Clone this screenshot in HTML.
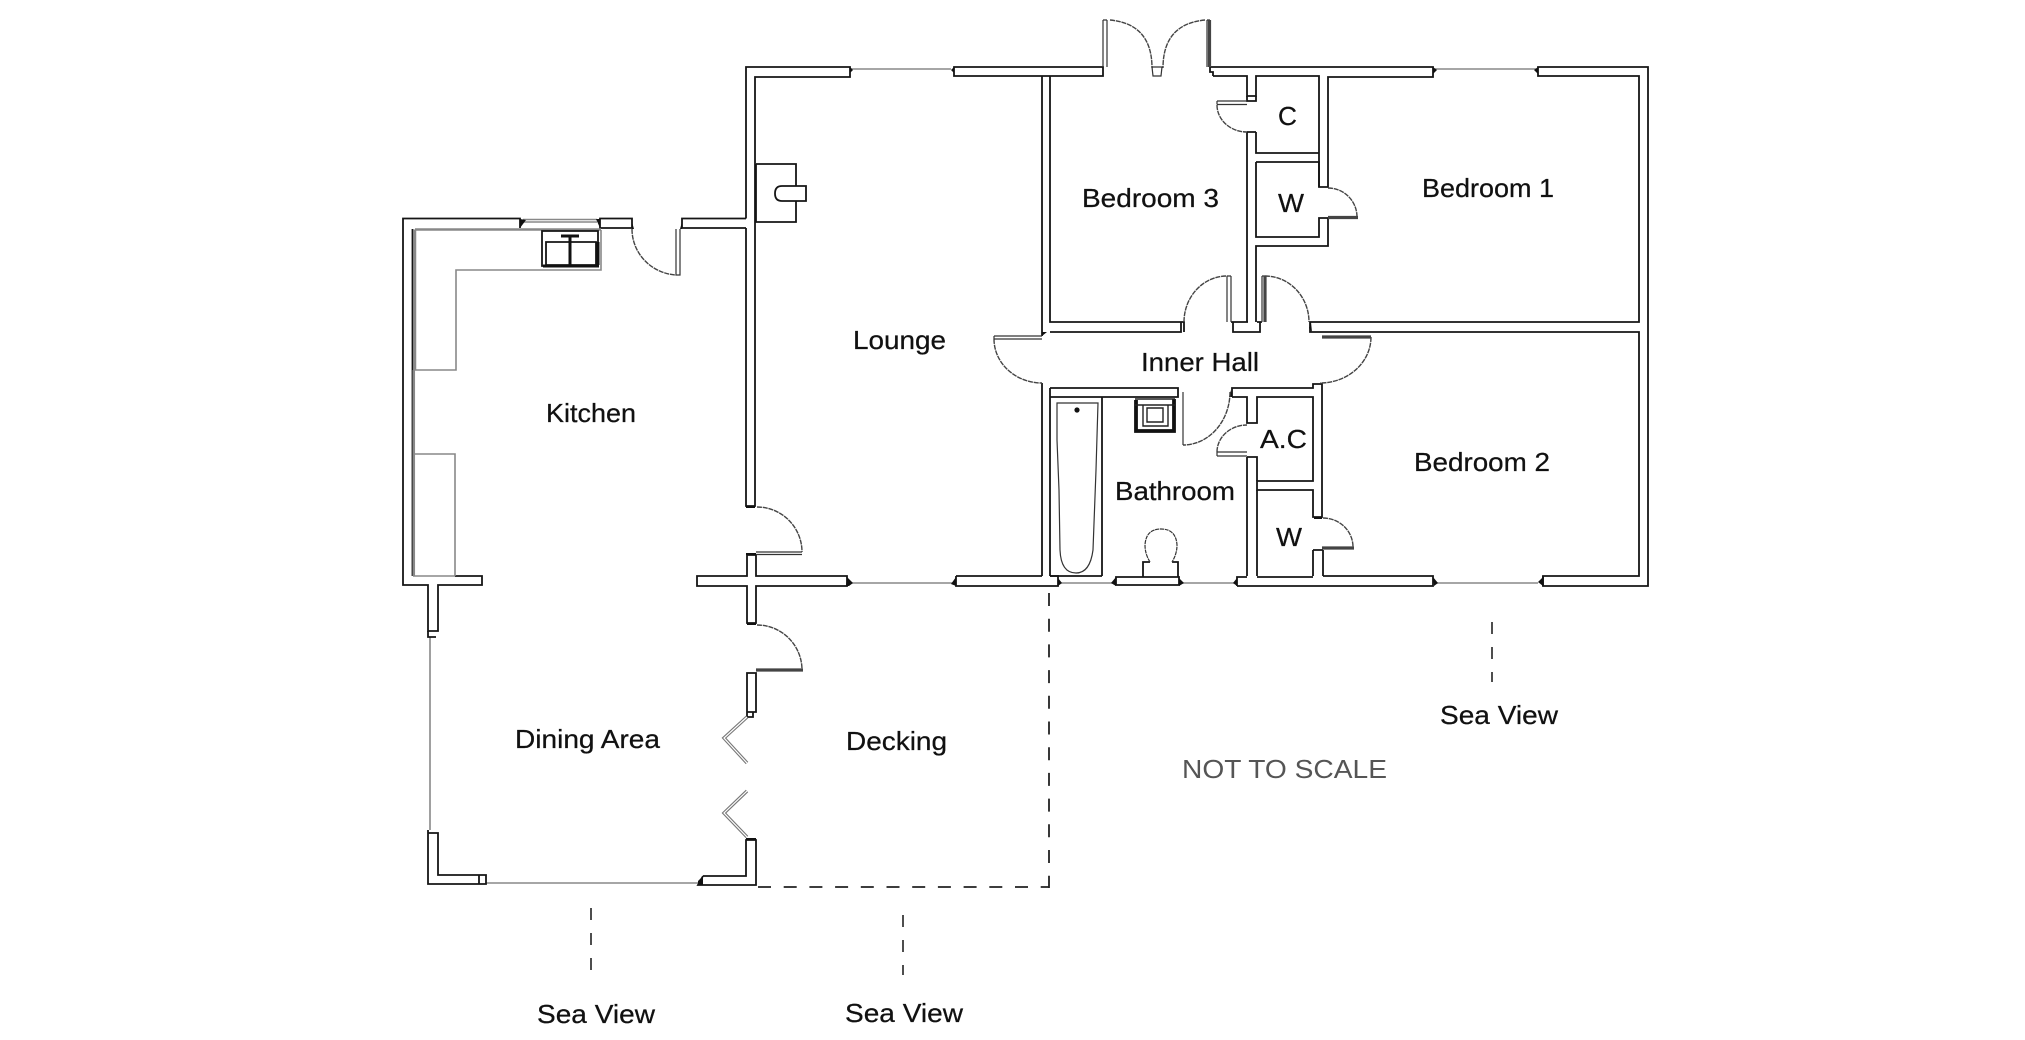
<!DOCTYPE html>
<html><head><meta charset="utf-8"><style>
html,body{margin:0;padding:0;background:#fff}
svg{display:block;filter:blur(.3px)}
text{font-family:"Liberation Sans",sans-serif;font-size:26px;fill:#111;stroke:#111;stroke-width:.25}
.w{fill:none;stroke:#151515;stroke-width:1.8}
.g{fill:none;stroke:#888;stroke-width:1.6}
.t{fill:none;stroke:#333;stroke-width:1.2}
.d{fill:none;stroke:#444;stroke-width:1.4;stroke-dasharray:5 .8}
.h{fill:none;stroke:#444;stroke-width:3.2}
.da{fill:none;stroke:#222;stroke-width:1.8;stroke-dasharray:13 12.7}
.db{fill:none;stroke:#222;stroke-width:1.6;stroke-dasharray:12 13}
.n{fill:#111;stroke:none}
</style></head><body>
<svg width="2025" height="1040" viewBox="0 0 2025 1040" xmlns="http://www.w3.org/2000/svg">
<rect width="2025" height="1040" fill="#fff"/>
<!-- windows -->
<path class="g" d="M850,69H951M1435,69H1536M849,583H956M1059,583H1115M1181,583H1237M1435,583H1538M486,883H698M430,637V830"/>
<path class="g" stroke-width="1.2" d="M523,219.500H597M523,222H597"/>
<!-- kitchen -->
<path class="w" d="M520,228V218.500H403V585H428V631H438V585H482V576H455M412.500,229V576"/>
<path class="w" d="M600,218.500H632V228H600Z"/>
<path class="w" d="M682,228V218.500H746M682,228H746"/>
<path class="w" d="M428,631V637H436"/>
<!-- lounge -->
<path class="w" d="M746,218.500V67H850V77H844M844,77H755V506H746V228"/>
<path class="w" d="M954,67H1103V76H954ZM1042,76V336M1050,76V322H1181V332H1050M1181,322H1184V332"/>
<!-- bed/upper right -->
<path class="w" d="M1210,67H1433V77H1328V187H1319V76M1213,76H1247V96H1256V76H1319V153H1256V136M1210,67V72H1213V76"/>
<path class="w" d="M1247,96V101H1256V96"/>
<path class="w" d="M1247,132V322M1256,132V136M1247,132H1256"/>
<path class="w" d="M1256,162H1319V187M1256,162V237H1319V218H1328V246H1256V322"/>
<path class="w" d="M1538,67H1648V586H1543V576H1639V332H1310V322H1639V76H1538Z"/>
<path class="w" d="M1231,322H1248M1257,322H1262M1233,322V332H1260V322"/>
<!-- lower centre -->
<path class="w" d="M1042,383V576M1050,388V576M1050,388H1178V397H1050M1178,388V397"/>
<path class="w" d="M1232,397V388H1313V384H1322V517H1313V490H1257V481H1313V397H1257V423H1247V397H1232"/>
<path class="w" d="M1247,457H1257V481M1257,490V576M1247,457V576"/>
<path class="w" d="M1313,550V576M1323,550V576M1313,550H1323"/>
<!-- bottom walls -->
<path class="w" d="M697,576H747V555H756V576H847V586H756V623H747V586H697Z"/>
<path class="w" d="M956,576H1042M1050,576H1058V586H956V576"/>
<path class="w" d="M1116,577H1179V585H1116Z"/>
<path class="w" d="M1102,576H1050"/>
<path class="w" d="M1237,586V577H1247M1257,577H1313M1323,576H1433V586H1237"/>
<path class="w" d="M1543,576V586"/>
<path class="w" d="M747,673H756V712H747ZM747,712V717H753V712"/>
<path class="w" d="M428,830V884H486V875H438V833H428M479,875V884"/>
<path class="w" d="M703,876H746V840H756V885H698L703,876"/>
<!-- nubs -->
<path class="n" d="M847,577L853,583L849,586H846ZM956,577L951,584L956,586ZM1058,578L1062,583L1058,586ZM1116,577L1111,583L1116,586ZM1179,578L1184,583L1179,586ZM1237,578L1233,583L1237,586ZM1433,577L1438,583L1434,586ZM1543,577L1538,582L1543,586ZM520,219L526,220L520,228ZM600,219H596L600,228ZM632,222V229H634ZM682,222V229H680ZM703,876L698,881L698,885H703ZM746,838H756V840H746ZM746,506H755V508H746ZM747,623H756V625H747ZM746,555H756V553H746ZM850,67V73L853,70ZM954,67V73L951,70ZM1433,67V74L1437,70ZM1538,67V74L1534,70ZM1311,322L1309,328L1312,332ZM1042,332H1047L1042,336ZM1314,517H1322V519H1314ZM1231,390L1229,397L1232,397Z"/>
<!-- chimney -->
<path class="w" d="M756,164H796V186M796,201V222H756V164"/>
<path class="w" d="M806,186V201H782Q775,201 775,193.500Q775,186 782,186Z"/>
<!-- kitchen units -->
<path fill="none" stroke="#888" stroke-width="2.5" d="M415,229.500H601M415,229.500V370M413.800,370V576"/>
<path class="g" d="M415,370H456V270H601V230M413,454H455V576M413,576H455"/>
<path class="w" stroke-width="1.5" d="M542,231H598V266H542Z"/>
<path class="w" stroke-width="1.3" d="M546,242H596V265H546Z"/>
<path d="M561,236H579M570,236V265M543,266H599M598,242V265" stroke="#111" stroke-width="3" fill="none"/>
<!-- door arcs -->
<g class="d">
<path d="M632,229A47,46 0 0 0 676,275"/>
<path d="M757,507A45,45 0 0 1 802,552"/>
<path d="M757,625A45,45 0 0 1 802,670"/>
<path d="M994,339A48,44 0 0 0 1042,383"/>
<path d="M1110,20Q1152,24 1152,68"/>
<path d="M1205,20Q1163,24 1163,68"/>
<path d="M1217,105A30,27 0 0 0 1247,132"/>
<path d="M1328,188A29,29 0 0 1 1357,217"/>
<path d="M1184,322A43,46 0 0 1 1227,276"/>
<path d="M1265,276A44,46 0 0 1 1309,322"/>
<path d="M1371,337A51,46 0 0 1 1320,383"/>
<path d="M1230,392A47,53 0 0 1 1183,445"/>
<path d="M1217,452A30,27 0 0 1 1247,425"/>
<path d="M1323,518A30,29 0 0 1 1353,547"/>
</g>
<!-- door leaves -->
<g class="t">
<path d="M676,229V275H680V229"/>
<path d="M756,552H802M756,554.500H802"/>
<path d="M994,336H1042M994,339H1042M994,336V339"/>
<path d="M1103,20V67M1107,20V67M1103,20H1107"/>
<path d="M1207,20V67M1207,20H1210"/>
<path d="M1217,101H1247M1217,104.500H1247M1217,101V104.500"/>
<path d="M1227,276V322M1231,276V322M1227,276H1231"/>
<path d="M1262,276V322M1262,276H1265"/>
<path d="M1152,67H1162L1161,76H1153Z"/>
<path d="M1183,392V445"/>
<path d="M1217,452H1247M1217,456H1247M1217,452V456"/>
</g>
<path class="h" stroke-width="2" d="M1209.500,20V67M1265,276V322"/>
<path class="h" d="M756,670H803M1328,217.500H1358M1322,337H1371M1322,548H1354"/>
<!-- bifold -->
<g fill="none" stroke="#777" stroke-width="3.4"><path d="M747,717L724,738L747,763M747,791L724,813L747,837"/></g>
<g fill="none" stroke="#fff" stroke-width="1.2"><path d="M747,717L724,738L747,763M747,791L724,813L747,837"/></g>
<!-- bath -->
<path class="w" d="M1102,397V576"/>
<path class="t" stroke-width="1.5" d="M1057,403H1098L1096,470L1093,550Q1090,573 1076,573Q1061,573 1060,550L1059,490L1057,440Z"/>
<circle cx="1077" cy="410" r="2.6" fill="#111"/>
<!-- basin -->
<path d="M1136,400V431H1174V399" fill="none" stroke="#111" stroke-width="3.8"/>
<path d="M1135,399H1175M1135,405H1175M1143,405V426H1168V405" fill="none" stroke="#222" stroke-width="1.4"/>
<path d="M1147,408H1163V422H1147Z" fill="none" stroke="#222" stroke-width="1.4"/>
<!-- toilet -->
<path class="w" stroke-width="1.5" d="M1143,577V562H1150M1172,562H1178V577"/>
<path class="t" stroke-width="1.4" stroke-dasharray="4 .7" d="M1150,562Q1145,554 1145,545Q1146,529 1161,529Q1176,529 1177,545Q1177,554 1172,562"/>
<!-- dashes -->
<path class="da" d="M758,887H1049M1049,593V888"/>
<path class="db" d="M591,908V972M903,915V975M1492,622V682"/>
<!-- labels -->
<text x="853" y="349" textLength="93" lengthAdjust="spacingAndGlyphs">Lounge</text>
<text x="546" y="422" textLength="90" lengthAdjust="spacingAndGlyphs">Kitchen</text>
<text x="1082" y="207" textLength="137" lengthAdjust="spacingAndGlyphs">Bedroom 3</text>
<text x="1422" y="197" textLength="132" lengthAdjust="spacingAndGlyphs">Bedroom 1</text>
<text x="1278" y="125" textLength="19" lengthAdjust="spacingAndGlyphs">C</text>
<text x="1278" y="212" textLength="26" lengthAdjust="spacingAndGlyphs">W</text>
<text x="1141" y="371" textLength="118" lengthAdjust="spacingAndGlyphs">Inner Hall</text>
<text x="1260" y="448" textLength="47" lengthAdjust="spacingAndGlyphs">A.C</text>
<text x="1414" y="471" textLength="136" lengthAdjust="spacingAndGlyphs">Bedroom 2</text>
<text x="1115" y="500" textLength="120" lengthAdjust="spacingAndGlyphs">Bathroom</text>
<text x="1276" y="546" textLength="26" lengthAdjust="spacingAndGlyphs">W</text>
<text x="515" y="748" textLength="145" lengthAdjust="spacingAndGlyphs">Dining Area</text>
<text x="846" y="750" textLength="101" lengthAdjust="spacingAndGlyphs">Decking</text>
<text x="537" y="1023" textLength="118" lengthAdjust="spacingAndGlyphs">Sea View</text>
<text x="845" y="1022" textLength="118" lengthAdjust="spacingAndGlyphs">Sea View</text>
<text x="1440" y="724" textLength="118" lengthAdjust="spacingAndGlyphs">Sea View</text>
<text x="1182" y="778" textLength="205" lengthAdjust="spacingAndGlyphs" style="fill:#555;stroke:none">NOT TO SCALE</text>
</svg>
</body></html>
